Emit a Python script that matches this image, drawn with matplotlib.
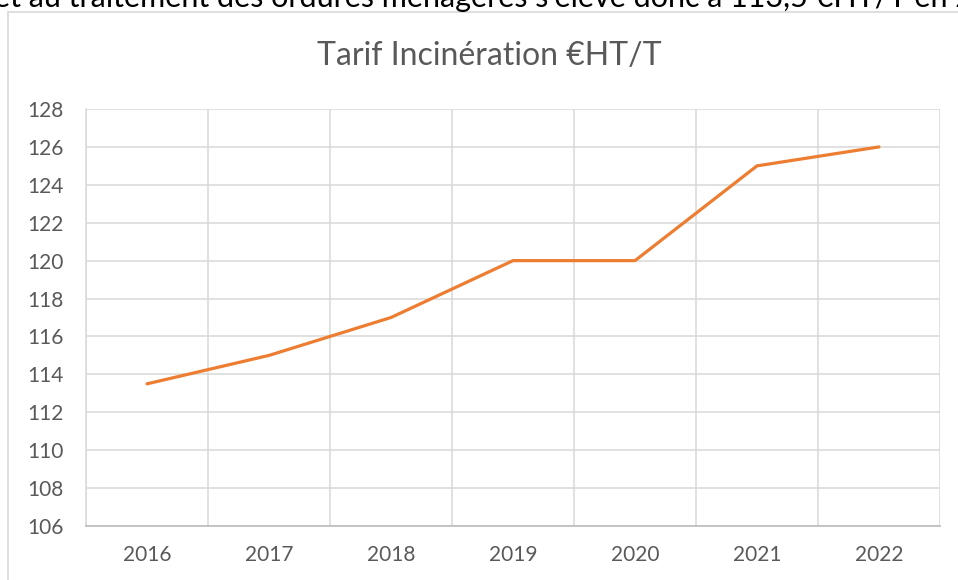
import matplotlib
matplotlib.use("Agg")
import matplotlib.pyplot as plt
from matplotlib.patches import Rectangle

years = ["2016", "2017", "2018", "2019", "2020", "2021", "2022"]
tarif = [113.5, 115, 117, 120, 120, 125, 126]
yticks = list(range(106, 129, 2))
title = "Tarif Incinération €HT/T"
top_text = "et au traitement des ordures ménagères s'élève donc à 113,5 €HT/T en 2016"

W, H = 958, 580
fig = plt.figure(figsize=(W / 100, H / 100), dpi=100)
plt.rcParams['font.family'] = ['Lato', 'DejaVu Sans']

# chart frame
fig.patches.append(Rectangle((8 / W, -0.1), 1.2, 1 - 12 / H + 0.1, transform=fig.transFigure,
                             facecolor='white', edgecolor='#D9D9D9', linewidth=1.2, zorder=-5))

# cut-off text above (as in the reference)
fig.text(-6 / W, 1 - 7 / H, top_text, fontsize=22, color='black', va='baseline', ha='left')

ax = fig.add_axes([86 / W, 1 - 526 / H, (940 - 86) / W, (526 - 109) / H])
ax.set_facecolor('none')
ax.set_zorder(2)
x = list(range(len(years)))
ax.plot(x, tarif, color='#ED7D31', linewidth=2.3, solid_capstyle='round', zorder=3)
ax.set_xlim(-0.5, len(years) - 0.5)
ax.set_ylim(106, 128)
ax.set_yticks(yticks)
ax.set_xticks(x)
ax.set_xticklabels(years)
ax.set_xticks([i - 0.5 for i in range(len(years) + 1)], minor=True)
ax.grid(True, which='major', axis='y', color='#D9D9D9', linewidth=1.1)
ax.grid(True, which='minor', axis='x', color='#D9D9D9', linewidth=1.1)
ax.set_axisbelow(True)
for s in ['top', 'right']:
    ax.spines[s].set_visible(False)
ax.spines['left'].set_color('#D9D9D9')
ax.spines['left'].set_linewidth(1.1)
ax.spines['bottom'].set_color('#BFBFBF')
ax.spines['bottom'].set_linewidth(1.3)
ax.tick_params(axis='both', which='both', length=0, labelsize=15, colors='#595959')
ax.tick_params(axis='y', pad=16)
ax.tick_params(axis='x', pad=14)
fig.text(489 / W, 1 - 56 / H, title, fontsize=23, color='#595959', ha='center', va='center')

fig.savefig("out.png", dpi=100)
